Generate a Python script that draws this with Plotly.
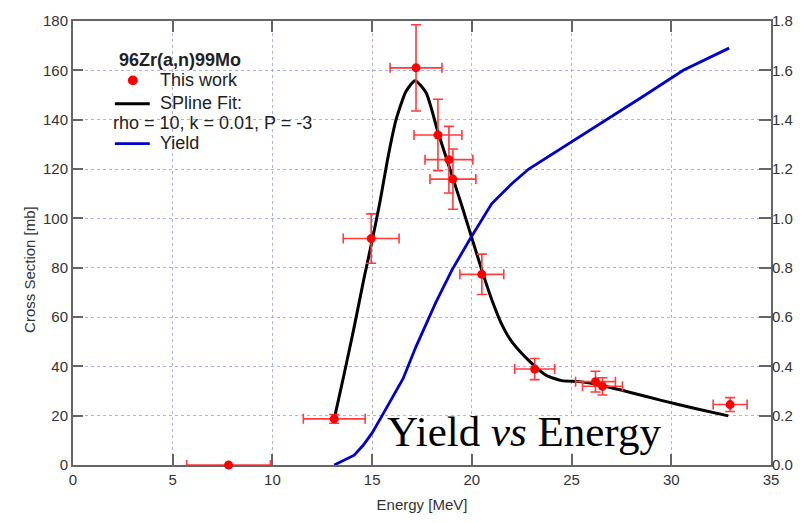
import plotly.graph_objects as go

# ---- data ----
exp_energy = [7.8, 13.1, 14.95, 17.2, 18.3, 18.85, 19.05, 20.5, 23.15, 26.2, 26.55, 32.95]
exp_xs = [0, 18.7, 91.8, 161, 133.8, 123.8, 115.9, 77.3, 38.9, 33.8, 31.9, 24.5]
exp_xerr = [2.1, 1.55, 1.4, 1.3, 1.2, 1.2, 1.15, 1.1, 1.0, 1.0, 1.0, 0.85]
exp_yerr = [0, 1.8, 10, 17.5, 14.5, 13.5, 12.2, 8.2, 4.3, 4.2, 3.5, 2.8]

fit_energy = [13.1, 13.6, 14.1, 14.6, 15.0, 15.4, 15.8, 16.2, 16.7, 17.15, 17.7, 18.3, 18.9,
              19.5, 20.0, 20.5, 21.0, 21.5, 22.0, 22.9, 23.7, 24.5, 25.4, 26.2, 27.9, 29.5,
              31.2, 32.86]
fit_xs = [18.7, 37, 56, 76, 91, 107, 125, 140, 151.5, 155.8, 151, 135, 120,
          105, 92, 79, 67, 57, 50, 42, 36.5, 34.2, 33.8, 32.8, 29.5, 26.2,
          22.9, 19.9]

yield_energy = [13.1, 13.6, 14.1, 14.55, 15.0, 15.5, 16.0, 16.55, 17.2, 17.8, 18.2, 19.0,
                19.9, 21.0, 22.0, 22.85, 24.7, 26.4, 28.5, 30.6, 32.9]
yield_val = [0, 0.02, 0.04, 0.08, 0.13, 0.2, 0.27, 0.35, 0.48, 0.59, 0.66, 0.79,
             0.915, 1.06, 1.14, 1.2, 1.295, 1.38, 1.49, 1.6, 1.69]

x_ticks = [0, 5, 10, 15, 20, 25, 30, 35]
y_ticks = [0, 20, 40, 60, 80, 100, 120, 140, 160, 180]
y2_ticks = [0.0, 0.2, 0.4, 0.6, 0.8, 1.0, 1.2, 1.4, 1.6, 1.8]

W, H = 805, 523
L, R, T, B = 73, 32, 12, 55
pw, ph = W - L - R, H - T - B

def px(xp):  # pixel x -> paper
    return (xp - L) / pw

def py(yp):  # pixel y -> paper
    return (H - B - yp) / ph

fig = go.Figure()

fig.add_trace(go.Scatter(x=fit_energy, y=fit_xs, mode="lines",
                         line=dict(color="black", width=3, shape="spline", smoothing=0.6),
                         name="SPline Fit", showlegend=False))
fig.add_trace(go.Scatter(x=yield_energy, y=yield_val, mode="lines", yaxis="y2",
                         line=dict(color="#0000cc", width=2.8),
                         name="Yield", showlegend=False))
fig.add_trace(go.Scatter(x=exp_energy, y=exp_xs, mode="markers",
                         marker=dict(color="red", size=9),
                         error_x=dict(type="data", array=exp_xerr, color="#ff3b3b",
                                      thickness=1.6, width=5),
                         error_y=dict(type="data", array=exp_yerr, color="#ff3b3b",
                                      thickness=1.6, width=5),
                         cliponaxis=False, name="This work", showlegend=False))

grid = "rgba(140,140,255,0.7)"
axcol = "#666666"
tickfont = dict(family="Liberation Sans, Arial", size=15, color="#333333")

fig.update_layout(
    width=W, height=H,
    margin=dict(l=L, r=R, t=T, b=B),
    paper_bgcolor="white", plot_bgcolor="white",
    showlegend=False,
    xaxis=dict(range=[0, 35], tickvals=x_ticks, ticks="inside", ticklen=11, tickwidth=2,
               tickcolor=axcol, showline=True, linecolor=axcol, linewidth=2,
               mirror="ticks", showgrid=True, gridcolor=grid, griddash="dot", gridwidth=1,
               zeroline=False, tickfont=tickfont, layer="below traces",
               title=dict(text="Energy [MeV]", font=dict(family="Liberation Sans, Arial",
                                                          size=15, color="#333333"),
                          standoff=12)),
    yaxis=dict(range=[0, 180], tickvals=y_ticks, ticks="inside", ticklen=10, tickwidth=2,
               tickcolor=axcol, showline=True, linecolor=axcol, linewidth=2,
               mirror=True, showgrid=True, gridcolor=grid, griddash="dot", gridwidth=1,
               zeroline=False, tickfont=tickfont, layer="below traces"),
    yaxis2=dict(range=[0, 1.8], tickvals=y2_ticks, tickformat=".1f", overlaying="y",
                side="right", ticks="inside", ticklen=12, tickwidth=2, tickcolor=axcol,
                showline=False, showgrid=False, zeroline=False, tickfont=tickfont),
)

# y-axis title
fig.add_annotation(text="Cross Section [mb]", textangle=-90, xref="paper", yref="paper",
                   x=px(19), y=py(267), showarrow=False,
                   font=dict(family="Liberation Sans, Arial", size=15, color="#333333"))

# manual legend (reproduces the original layout)
lfont = dict(family="Liberation Sans, Arial", size=18, color="#222222")
fig.add_annotation(text="<b>96Zr(a,n)99Mo</b>", xref="paper", yref="paper", x=px(117),
                   y=py(52), xanchor="left", yanchor="middle", showarrow=False, font=lfont)
fig.add_annotation(text="This work", xref="paper", yref="paper", x=px(158), y=py(73),
                   xanchor="left", yanchor="middle", showarrow=False, font=lfont)
fig.add_annotation(text="SPline Fit:", xref="paper", yref="paper", x=px(158), y=py(96),
                   xanchor="left", yanchor="middle", showarrow=False, font=lfont)
fig.add_annotation(text="rho = 10, k = 0.01, P = -3", xref="paper", yref="paper",
                   x=px(111), y=py(117), xanchor="left", yanchor="middle",
                   showarrow=False, font=lfont)
fig.add_annotation(text="Yield", xref="paper", yref="paper", x=px(158), y=py(137),
                   xanchor="left", yanchor="middle", showarrow=False, font=lfont)
fig.add_shape(type="circle", xref="paper", yref="paper", x0=px(128), x1=px(138),
              y0=py(78), y1=py(68), fillcolor="red", line=dict(color="red", width=0))
fig.add_shape(type="line", xref="paper", yref="paper", x0=px(115), x1=px(150),
              y0=py(97), y1=py(97), line=dict(color="black", width=3))
fig.add_shape(type="line", xref="paper", yref="paper", x0=px(115), x1=px(150),
              y0=py(138), y1=py(138), line=dict(color="#0000cc", width=2.8))

# white box behind the big label (kept below the 20 gridline like the original)
fig.add_shape(type="rect", xref="paper", yref="paper", x0=px(386), x1=px(664),
              y0=py(456), y1=py(419), fillcolor="white", line=dict(width=0), layer="above")
fig.add_annotation(text="Yield <i>vs</i> Energy", xref="paper", yref="paper",
                   x=px(386), y=py(434), xanchor="left", yanchor="middle",
                   showarrow=False,
                   font=dict(family="Liberation Serif, Times New Roman", size=43,
                             color="black"))

fig.write_html("out.html", config={"displayModeBar": False},
               post_script="document.body.style.margin='0';document.body.style.overflow='hidden';")
